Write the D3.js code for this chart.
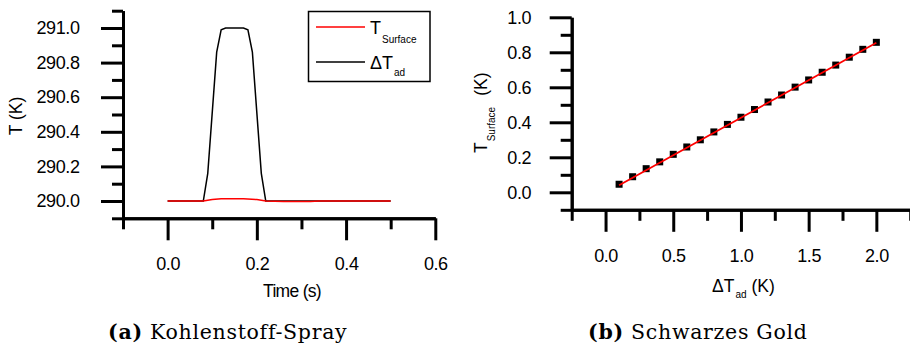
<!DOCTYPE html>
<html>
<head>
<meta charset="utf-8">
<script src="https://cdn.jsdelivr.net/npm/d3@7"></script>
<style>
  body { margin: 0; background: #fff; }
  svg { display: block; }
  .tick text { font-family: "Liberation Sans", Arial, sans-serif; font-size: 18px; letter-spacing: -0.4px; fill: #000; }
  .lab { font-family: "Liberation Sans", Arial, sans-serif; fill: #000; }
  .cap { font-family: "DejaVu Serif", serif; font-size: 20.5px; letter-spacing: 0.7px; fill: #000; }
</style>
</head>
<body>
<svg id="fig" width="910" height="346"></svg>
<script>
// (a) temperature over time
const timeSurface = [0, 0.08, 0.1, 0.12, 0.17, 0.2, 0.22, 0.26, 0.32, 0.34, 0.5];
const tSurface = [290.0, 290.0, 290.008, 290.013, 290.013, 290.008, 290.0, 289.997, 289.997, 290.0, 290.0];
const timeAd = [0, 0.08, 0.09, 0.11, 0.12, 0.13, 0.17, 0.18, 0.19, 0.21, 0.22, 0.5];
const tAd = [290.0, 290.0, 290.16, 290.86, 290.99, 291.0, 291.0, 290.99, 290.86, 290.16, 290.0, 290.0];
const timeTicks = [0, 0.2, 0.4, 0.6];
const timeMinor = [-0.1, 0.1, 0.3, 0.5];
const tTicks = [290.0, 290.2, 290.4, 290.6, 290.8, 291.0];
const tMinor = [289.9, 290.1, 290.3, 290.5, 290.7, 290.9, 291.1];

// (b) surface temperature vs adiabatic rise
const dTad = [0.1, 0.2, 0.3, 0.4, 0.5, 0.6, 0.7, 0.8, 0.9, 1.0, 1.1, 1.2, 1.3, 1.4, 1.5, 1.6, 1.7, 1.8, 1.9, 2.0];
const tSurf = [0.046, 0.089, 0.135, 0.174, 0.217, 0.259, 0.300, 0.345, 0.388, 0.429, 0.473, 0.516, 0.556, 0.601, 0.642, 0.686, 0.727, 0.772, 0.817, 0.857];
const fitX = [0.1, 2.0];
const fitY = [0.040, 0.855];
const dTicks = [0, 0.5, 1.0, 1.5, 2.0];
const dMinor = [-0.25, 0.25, 0.75, 1.25, 1.75, 2.25];
const sTicks = [0, 0.2, 0.4, 0.6, 0.8, 1.0];
const sMinor = [-0.1, 0.1, 0.3, 0.5, 0.7, 0.9];

const svg = d3.select('#fig');

function drawAxes(g, x, y, xt, xm, yt, ym) {
    const y0 = y.range()[0], x0 = x.range()[0];
    // minor ticks first
    g.append('g').attr('transform', `translate(0,${y0})`)
        .call(d3.axisBottom(x).tickValues(xm).tickSize(11).tickSizeOuter(0).tickFormat(''));
    g.append('g').attr('transform', `translate(${x0},0)`)
        .call(d3.axisLeft(y).tickValues(ym).tickSize(11).tickSizeOuter(0).tickFormat(''));
    g.append('g').attr('transform', `translate(0,${y0})`)
        .call(d3.axisBottom(x).tickValues(xt).tickSize(22).tickSizeOuter(0).tickPadding(17).tickFormat(d3.format('.1f')));
    g.append('g').attr('class', 'yax').attr('transform', `translate(${x0},0)`)
        .call(d3.axisLeft(y).tickValues(yt).tickSize(22).tickSizeOuter(0).tickFormat(d3.format('.1f')));
    g.selectAll('.domain, .tick line').attr('stroke', '#000').attr('stroke-width', 3);
    g.selectAll('.tick text').attr('font-family', null).attr('font-size', null);
}

// ---------- chart (a) ----------
const xA = d3.scaleLinear().domain([-0.1, 0.6]).range([123, 435.3]);
const yA = d3.scaleLinear().domain([289.9, 291.1]).range([218.3, 10.7]);
const gA = svg.append('g');
drawAxes(gA, xA, yA, timeTicks, timeMinor, tTicks, tMinor);
gA.selectAll('.yax .tick text').attr('x', -43.5);

const lineA = d3.line().x(d => xA(d[0])).y(d => yA(d[1]));
gA.append('path').datum(d3.zip(timeAd, tAd))
    .attr('d', lineA).attr('fill', 'none').attr('stroke', '#000').attr('stroke-width', 1.5);
gA.append('path').datum(d3.zip(timeSurface, tSurface))
    .attr('d', lineA).attr('fill', 'none').attr('stroke', '#f00').attr('stroke-width', 1.5);

// legend
gA.append('rect').attr('x', 308.5).attr('y', 11.5).attr('width', 121.5).attr('height', 70)
    .attr('fill', '#fff').attr('stroke', '#000').attr('stroke-width', 1.5);
gA.append('line').attr('x1', 316).attr('x2', 365).attr('y1', 27).attr('y2', 27).attr('stroke', '#f00').attr('stroke-width', 1.5);
gA.append('line').attr('x1', 316).attr('x2', 365).attr('y1', 62).attr('y2', 62).attr('stroke', '#000').attr('stroke-width', 1.5);
const l1 = gA.append('text').attr('class', 'lab').attr('x', 370).attr('y', 34).attr('font-size', 18);
l1.append('tspan').text('T');
l1.append('tspan').attr('font-size', 10).attr('dy', 9).attr('dx', 1).text('Surface');
const l2 = gA.append('text').attr('class', 'lab').attr('x', 370).attr('y', 69).attr('font-size', 18);
l2.append('tspan').text('ΔT');
l2.append('tspan').attr('font-size', 10).attr('dy', 7).attr('dx', 1).text('ad');

gA.append('text').attr('class', 'lab').attr('x', 292).attr('y', 297).attr('font-size', 17.5)
    .attr('text-anchor', 'middle').attr('letter-spacing', -0.7).text('Time (s)');
gA.append('text').attr('class', 'lab').attr('font-size', 17.5).attr('text-anchor', 'middle')
    .attr('transform', 'translate(22,116) rotate(-90)').text('T (K)');

// ---------- chart (b) ----------
const xB = d3.scaleLinear().domain([-0.25, 2.25]).range([571.7, 910.2]);
const yB = d3.scaleLinear().domain([-0.1, 1.0]).range([209.8, 17.3]);
const gB = svg.append('g');
drawAxes(gB, xB, yB, dTicks, dMinor, sTicks, sMinor);
gB.selectAll('.yax .tick text').attr('x', -40.5);

gB.selectAll('rect.pt').data(d3.zip(dTad, tSurf)).join('rect')
    .attr('class', 'pt')
    .attr('x', d => xB(d[0]) - 3.5).attr('y', d => yB(d[1]) - 3.5)
    .attr('width', 7).attr('height', 7).attr('fill', '#000');
gB.append('path').datum(d3.zip(fitX, fitY))
    .attr('d', d3.line().x(d => xB(d[0])).y(d => yB(d[1])))
    .attr('fill', 'none').attr('stroke', '#f00').attr('stroke-width', 1.8);

const xl = gB.append('text').attr('class', 'lab').attr('x', 712).attr('y', 292).attr('font-size', 17.5);
xl.append('tspan').text('ΔT');
xl.append('tspan').attr('font-size', 10).attr('dy', 6).attr('dx', 1).text('ad');
xl.append('tspan').attr('dy', -6).attr('dx', 5).text('(K)');

const yl = gB.append('text').attr('class', 'lab').attr('font-size', 17.5)
    .attr('transform', 'translate(487,153) rotate(-90)');
yl.append('tspan').text('T');
yl.append('tspan').attr('font-size', 10).attr('dy', 8).attr('dx', 1).text('Surface');
yl.append('tspan').attr('dy', -8).attr('dx', 11).text('(K)');

// ---------- captions ----------
const cA = svg.append('text').attr('class', 'cap').attr('x', 108).attr('y', 339);
cA.append('tspan').attr('font-weight', 'bold').text('(a)');
cA.append('tspan').text(' Kohlenstoff-Spray');
const cB = svg.append('text').attr('class', 'cap').attr('x', 588).attr('y', 339);
cB.append('tspan').attr('font-weight', 'bold').text('(b)');
cB.append('tspan').text(' Schwarzes Gold');
</script>
</body>
</html>
